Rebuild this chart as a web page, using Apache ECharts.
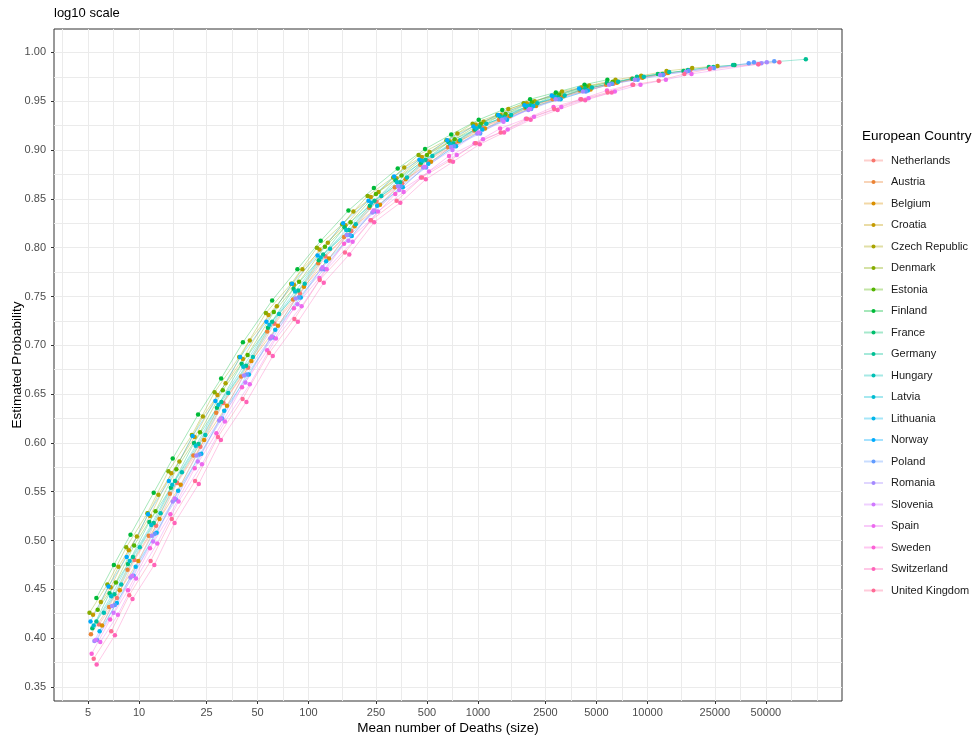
<!DOCTYPE html>
<html><head><meta charset="utf-8">
<script src="https://cdn.jsdelivr.net/npm/echarts@6/dist/echarts.min.js"></script>
<style>html,body{margin:0;padding:0;background:#fff}#c{width:979px;height:736px}</style>
</head><body><div id="c"></div>
<script>
const countries = ['Netherlands','Austria','Belgium','Croatia','Czech Republic','Denmark','Estonia','Finland','France','Germany','Hungary','Latvia','Lithuania','Norway','Poland','Romania','Slovenia','Spain','Sweden','Switzerland','United Kingdom'];

const netherlands = [[5.8,0.414],[7.4,0.441],[9.4,0.480],[12.6,0.515],[16.8,0.559],[23,0.596],[31.5,0.641],[44,0.677],[63,0.722],[89,0.753],[126,0.791],[179,0.817],[252,0.847],[357,0.866],[504,0.889],[735,0.906],[1050,0.923],[1470,0.933],[2100,0.946],[3050,0.954],[4400,0.963],[6300,0.968],[8900,0.974],[12600,0.978],[17900,0.982]];
const austria = [[5.2,0.404],[6.65,0.432],[8.55,0.470],[11.4,0.505],[15.2,0.548],[20.9,0.587],[28.5,0.631],[40,0.668],[57,0.714],[81,0.747],[114,0.784],[162,0.811],[228,0.841],[323,0.862],[456,0.885],[665,0.903],[950,0.920],[1330,0.931],[1900,0.943],[2755,0.952],[3990,0.961],[5700,0.967],[8075,0.973]];
const belgium = [[6.05,0.413],[7.7,0.449],[9.9,0.479],[13.2,0.522],[17.6,0.557],[24.2,0.603],[33,0.638],[46,0.684],[66,0.720],[94,0.760],[132,0.789],[187,0.822],[264,0.844],[374,0.870],[528,0.888],[770,0.909],[1100,0.922],[1540,0.935],[2200,0.945],[3190,0.955],[4620,0.962],[6600,0.969],[9350,0.974],[13200,0.979]];
const croatia = [[5.35,0.424],[6.8,0.452],[8.7,0.490],[11.6,0.525],[15.5,0.569],[21.3,0.606],[29,0.649],[41,0.686],[58,0.731],[82,0.762],[116,0.798],[165,0.823],[233,0.852],[330,0.871],[466,0.893],[680,0.909],[970,0.926],[1360,0.936],[1940,0.948],[2810,0.956],[4070,0.964]];
const czechRepublic = [[5.95,0.437],[7.55,0.473],[9.7,0.504],[13,0.547],[17.3,0.581],[23.8,0.627],[32.4,0.661],[45,0.705],[65,0.740],[92,0.778],[130,0.805],[184,0.837],[259,0.857],[367,0.882],[518,0.898],[756,0.917],[1080,0.929],[1510,0.942],[2160,0.950],[3130,0.960],[4540,0.966],[6480,0.972],[9180,0.976],[12960,0.981],[18360,0.984],[25900,0.986]];
const denmark = [[5.1,0.426],[6.5,0.455],[8.4,0.493],[11.2,0.528],[14.9,0.571],[20.5,0.608],[27.9,0.652],[39,0.688],[56,0.733],[79,0.763],[112,0.800],[158,0.824],[223,0.853],[316,0.872],[446,0.895],[651,0.910],[930,0.927],[1300,0.936],[1860,0.948]];
const estonia = [[5.7,0.429],[7.3,0.457],[9.35,0.495],[12.5,0.530],[16.6,0.573],[22.9,0.611],[31.2,0.654],[43.7,0.690],[62.4,0.734],[88,0.765],[125,0.801],[177,0.826],[250,0.855],[354,0.874],[500,0.895],[728,0.911],[1040,0.927],[1456,0.937],[2080,0.949],[3016,0.957],[4368,0.965],[6240,0.970]];
const finland = [[5.6,0.441],[7.1,0.475],[8.9,0.506],[12.2,0.549],[15.8,0.584],[22.3,0.629],[30.5,0.666],[41,0.703],[61,0.746],[86,0.778],[118,0.807],[172,0.838],[243,0.861],[336,0.881],[487,0.901],[695,0.916],[1010,0.931],[1390,0.941],[2030,0.952],[2880,0.959],[4250,0.967],[5800,0.972]];
const france = [[5.3,0.410],[6.7,0.446],[8.6,0.476],[11.5,0.519],[15.4,0.554],[21.1,0.600],[28.8,0.636],[40.3,0.681],[57.6,0.718],[81.6,0.758],[115,0.787],[163,0.821],[230,0.843],[326,0.869],[461,0.887],[672,0.908],[960,0.921],[1344,0.935],[1920,0.944],[2784,0.955],[4032,0.962],[5760,0.969],[8160,0.973],[11520,0.978],[16320,0.981],[23040,0.985],[32640,0.987]];
const germany = [[5.6,0.417],[7.15,0.445],[9.2,0.483],[12.2,0.518],[16.3,0.561],[22.4,0.599],[30.6,0.642],[42.8,0.679],[61,0.724],[87,0.756],[122,0.793],[173,0.818],[245,0.848],[347,0.867],[490,0.890],[714,0.907],[1020,0.924],[1428,0.934],[2040,0.946],[2958,0.954],[4284,0.963],[6120,0.968],[8670,0.975],[12240,0.978],[17340,0.982],[24480,0.985],[32000,0.987],[86000,0.993]];
const hungary = [[6.2,0.426],[7.85,0.455],[10.1,0.493],[13.4,0.528],[17.9,0.570],[24.6,0.608],[33.6,0.651],[47,0.688],[67,0.732],[95,0.763],[134,0.799],[190,0.824],[269,0.853],[381,0.872],[538,0.894],[784,0.910],[1120,0.927],[1568,0.936],[2240,0.948],[3248,0.956],[4704,0.964],[6720,0.970],[9520,0.975],[13440,0.980]];
const latvia = [[5.4,0.413],[6.85,0.443],[8.8,0.479],[11.8,0.516],[15.7,0.557],[21.6,0.597],[29.4,0.639],[41.2,0.678],[58.8,0.721],[83.3,0.755],[118,0.790],[167,0.818],[235,0.846],[333,0.867],[470,0.889],[686,0.906],[980,0.922],[1372,0.933],[1960,0.945],[2842,0.954]];
const lithuania = [[5.85,0.407],[7.4,0.436],[9.55,0.473],[12.7,0.508],[17,0.551],[23.3,0.589],[31.8,0.633],[44.5,0.670],[63.6,0.716],[90,0.749],[127,0.786],[180,0.812],[254,0.843],[360,0.862],[509,0.886],[742,0.904],[1060,0.921],[1484,0.931],[2120,0.945],[3074,0.952],[4452,0.961]];
const norway = [[5.17,0.417],[6.6,0.453],[8.45,0.483],[11.3,0.527],[15,0.561],[20.7,0.607],[28.2,0.643],[39.5,0.688],[56.4,0.724],[80,0.763],[113,0.792],[160,0.825],[226,0.848],[320,0.873],[451,0.890],[658,0.910],[940,0.924],[1316,0.936],[1880,0.946],[2726,0.956],[3948,0.963]];
const poland = [[5.65,0.398],[7.2,0.434],[9.3,0.464],[12.4,0.507],[16.5,0.542],[22.7,0.588],[30.9,0.625],[43.3,0.670],[61.8,0.708],[87.5,0.749],[124,0.778],[175,0.813],[247,0.837],[350,0.863],[494,0.882],[721,0.904],[1030,0.917],[1442,0.932],[2060,0.942],[2987,0.952],[4326,0.960],[6180,0.968],[8755,0.972],[12360,0.977],[17510,0.981],[24720,0.984],[39600,0.989],[42500,0.990],[56000,0.991]];
const romania = [[5.45,0.397],[6.93,0.433],[8.9,0.462],[11.9,0.505],[15.8,0.540],[21.8,0.587],[29.7,0.623],[41.6,0.669],[59.4,0.707],[84,0.748],[119,0.778],[168,0.813],[238,0.836],[337,0.863],[475,0.882],[693,0.903],[990,0.917],[1386,0.931],[1980,0.941],[2871,0.952],[4158,0.960],[5940,0.967],[8415,0.972],[11880,0.977],[16830,0.980],[23760,0.984],[47000,0.989],[50600,0.990]];
const slovenia = [[5.55,0.398],[7.07,0.426],[9.1,0.464],[12.1,0.499],[16.2,0.543],[22.2,0.581],[30.3,0.625],[42.4,0.662],[60.6,0.709],[86,0.742],[121,0.780],[172,0.807],[242,0.838],[343,0.859],[485,0.883],[707,0.900],[1010,0.918],[1414,0.929],[2020,0.942]];
const spain = [[5.9,0.396],[7.5,0.424],[9.6,0.461],[12.8,0.497],[17.1,0.540],[23.5,0.578],[32.1,0.622],[45,0.660],[64.2,0.707],[91,0.740],[128,0.778],[182,0.806],[257,0.837],[364,0.857],[514,0.878],[749,0.895],[1070,0.911],[1498,0.921],[2140,0.934],[3103,0.944],[4494,0.953],[6420,0.960],[9095,0.967],[12840,0.972],[18190,0.978],[45000,0.988]];
const sweden = [[5.25,0.384],[6.75,0.419],[8.6,0.449],[11.6,0.492],[15.3,0.527],[21.3,0.574],[28.6,0.610],[40.5,0.657],[57,0.695],[82,0.738],[116,0.769],[162,0.804],[232,0.828],[325,0.855],[460,0.872],[675,0.894],[955,0.907],[1350,0.922],[1915,0.932],[2790,0.944],[4020,0.952],[5770,0.961],[8150,0.967]];
const switzerland = [[5.62,0.373],[7.2,0.403],[9.15,0.440],[12.3,0.475],[16.2,0.518],[22.5,0.558],[30.4,0.603],[43,0.642],[61.5,0.689],[86.5,0.724],[123,0.764],[174,0.793],[244,0.826],[348,0.846],[492,0.870],[712,0.888],[1025,0.906],[1425,0.918],[2045,0.931],[2950,0.941],[4290,0.951],[6150,0.959]];
const unitedKingdom = [[5.4,0.379],[6.85,0.407],[8.75,0.444],[11.7,0.479],[15.6,0.522],[21.4,0.561],[29.2,0.606],[40.8,0.645],[58.5,0.692],[82.5,0.727],[116.5,0.767],[164,0.795],[234,0.828],[331,0.848],[467,0.872],[681,0.889],[972,0.907],[1362,0.918],[1945,0.932],[2815,0.942],[4065,0.952],[5825,0.959],[8240,0.967],[11650,0.971],[16500,0.978],[23300,0.983],[45200,0.988],[60000,0.990]];

const xTicks = [5,10,25,50,100,250,500,1000,2500,5000,10000,25000,50000];
const xMinorGrid = [3.536,7.071,15.81,35.36,70.71,158.1,353.6,707.1,1581,3536,7071,15811,35355,70711,100000];
const yTicks = [0.35,0.40,0.45,0.50,0.55,0.60,0.65,0.70,0.75,0.80,0.85,0.90,0.95,1.00];
const yMinorGrid = [0.375,0.425,0.475,0.525,0.575,0.625,0.675,0.725,0.775,0.825,0.875,0.925,0.975];

const seriesData = [netherlands,austria,belgium,croatia,czechRepublic,denmark,estonia,finland,france,germany,hungary,latvia,lithuania,norway,poland,romania,slovenia,spain,sweden,switzerland,unitedKingdom];

// ggplot2 default hue palette (polar LUV, c=100, l=65)
function hcl(h, c, l) {
  const hr = h * Math.PI / 180;
  const U = c * Math.cos(hr), V = c * Math.sin(hr);
  const Xn = 95.047, Yn = 100, Zn = 108.883;
  const Y = l > 8 ? Yn * Math.pow((l + 16) / 116, 3) : Yn * l / 903.3;
  const t = Xn + 15 * Yn + 3 * Zn;
  const un = 4 * Xn / t, vn = 9 * Yn / t;
  const u = U / (13 * l) + un, v = V / (13 * l) + vn;
  const X = 9 * Y * u / (4 * v);
  const Z = -X / 3 - 5 * Y + 3 * Y / v;
  const x = X / 100, y = Y / 100, z = Z / 100;
  const lin = [3.240479 * x - 1.537150 * y - 0.498535 * z,
               -0.969256 * x + 1.875992 * y + 0.041556 * z,
               0.055648 * x - 0.204043 * y + 1.057311 * z];
  return '#' + lin.map(c0 => {
    let g = c0 <= 0.0031308 ? 12.92 * c0 : 1.055 * Math.pow(c0, 1 / 2.4) - 0.055;
    g = Math.max(0, Math.min(1, g));
    return Math.round(g * 255).toString(16).padStart(2, '0');
  }).join('');
}
const n = countries.length;
const colors = countries.map((_, i) => hcl(15 + 360 * i / n, 100, 65));

const FONT = '"Liberation Sans", Arial, sans-serif';
const chart = echarts.init(document.getElementById('c'), null, {renderer: 'canvas'});
const xMin = 3.148, xMax = 140600, yMin = 0.3356, yMax = 1.024;

chart.setOption({
  animation: false,
  backgroundColor: '#ffffff',
  textStyle: {fontFamily: FONT},
  title: [
    {text: 'log10 scale', left: 54, top: 7, padding: 0, textStyle: {fontSize: 13, fontWeight: 'normal', color: '#000', fontFamily: FONT}},
    {text: 'European Country', left: 862, top: 129, padding: 0, textStyle: {fontSize: 13.5, fontWeight: 'normal', color: '#000', fontFamily: FONT}}
  ],
  legend: {
    orient: 'vertical', left: 863, top: 154.5, padding: 0,
    itemWidth: 19, itemHeight: 5, itemGap: 9.5,
    data: countries,
    lineStyle: {width: 2, opacity: 0.35},
    textStyle: {fontSize: 11, color: '#1a1a1a', fontFamily: FONT, lineHeight: 12, padding: [0, 0, 0, 3]}
  },
  grid: {left: 54, right: 137, top: 29, bottom: 35, show: true, borderColor: '#333333', borderWidth: 1, backgroundColor: '#ffffff', containLabel: false, outerBoundsMode: 'none'},
  xAxis: [
    {
      type: 'log', logBase: 10, min: xMin, max: xMax,
      axisLine: {show: false},
      axisTick: {show: true, length: 3, lineStyle: {color: '#333333'}, customValues: xTicks},
      axisLabel: {customValues: xTicks, formatter: v => String(Math.round(v)), fontSize: 11, color: '#4d4d4d', margin: 6, fontFamily: FONT},
      splitLine: {show: false},
      name: 'Mean number of Deaths (size)', nameLocation: 'middle', nameGap: 20, nameMoveOverlap: false,
      nameTextStyle: {fontSize: 13.5, color: '#000', fontFamily: FONT}
    },
    {
      type: 'log', logBase: 10, min: xMin, max: xMax, position: 'bottom',
      axisLine: {show: false},
      axisTick: {show: false, customValues: xTicks.concat(xMinorGrid)},
      axisLabel: {show: false},
      splitLine: {show: true, lineStyle: {color: '#ebebeb', width: 1}}
    }
  ],
  yAxis: [
    {
      type: 'value', min: yMin, max: yMax,
      axisLine: {show: false},
      axisTick: {show: true, length: 3, lineStyle: {color: '#333333'}, customValues: yTicks},
      axisLabel: {customValues: yTicks, formatter: v => v.toFixed(2), fontSize: 11, color: '#4d4d4d', margin: 8, fontFamily: FONT},
      splitLine: {show: false},
      name: 'Estimated Probability', nameLocation: 'middle', nameGap: 30, nameMoveOverlap: false,
      nameTextStyle: {fontSize: 13.5, color: '#000', fontFamily: FONT}
    },
    {
      type: 'value', min: yMin, max: yMax, position: 'left',
      axisLine: {show: false},
      axisTick: {show: false, customValues: yTicks.concat(yMinorGrid)},
      axisLabel: {show: false},
      splitLine: {show: true, lineStyle: {color: '#ebebeb', width: 1}}
    }
  ],
  series: countries.map((name, i) => ({
    name: name, type: 'line', xAxisIndex: 0, yAxisIndex: 0,
    data: seriesData[i],
    symbol: 'circle', symbolSize: 4.5, showSymbol: true,
    itemStyle: {color: colors[i]},
    lineStyle: {color: colors[i], width: 0.7, opacity: 0.5},
    emphasis: {disabled: true},
    clip: true
  }))
});
</script>
</body></html>
